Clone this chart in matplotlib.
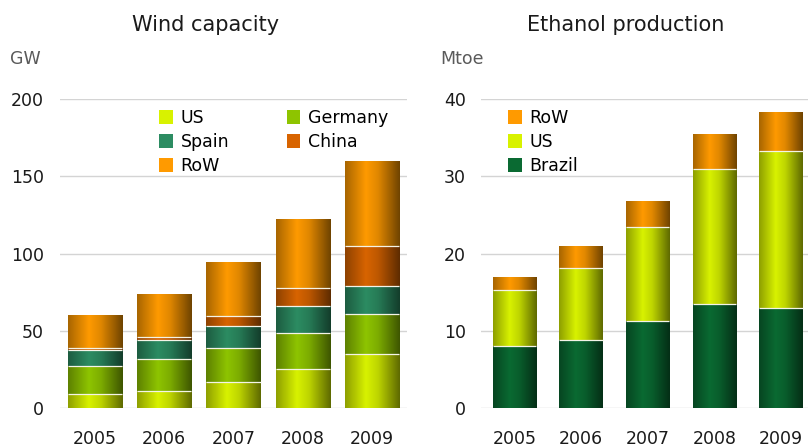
import numpy as np
import matplotlib
matplotlib.use("Agg")
import matplotlib.pyplot as plt
from matplotlib.colors import to_rgb
from matplotlib.patches import Patch

# Données
years = ["2005", "2006", "2007", "2008", "2009"]

wind_us = [9.1, 11.4, 16.8, 25.2, 35.0]
wind_germany = [18.4, 20.7, 22.2, 23.8, 25.8]
wind_spain = [10.0, 11.8, 14.5, 16.9, 18.5]
wind_china = [1.2, 2.3, 6.2, 11.8, 25.9]
wind_row = [21.2, 27.8, 34.3, 44.0, 54.5]

eth_brazil = [8.0, 8.8, 11.3, 13.5, 13.0]
eth_us = [7.3, 9.3, 12.2, 17.5, 20.3]
eth_row = [1.6, 2.8, 3.3, 4.5, 5.0]

# Couleurs
c_us = "#d8f200"
c_germany = "#8ec400"
c_spain = "#2c8c62"
c_china = "#d86400"
c_row = "#ff9a00"
c_brazil = "#0a6a32"

plt.rcParams["font.family"] = "DejaVu Sans"
txt_col = "#1a1a1a"
grid_col = "#d4d4d4"


def shade_profile(n=64):
    # sombre à gauche, clair vers 35 %, très sombre à droite
    x = np.linspace(0, 1, n)
    return np.interp(x, [0, 0.38, 0.6, 1.0], [0.66, 1.0, 0.88, 0.44])


def gradient_bars(ax, x, heights, bottoms, color, width):
    bars = ax.bar(x, heights, width, bottom=bottoms, facecolor="none",
                  edgecolor="none", zorder=3)
    prof = shade_profile()
    rgb = np.array(to_rgb(color))
    img = (prof[:, None] * rgb[None, :])[None, :, :]
    for b in bars:
        x0, y0 = b.get_x(), b.get_y()
        ax.imshow(img, extent=[x0, x0 + b.get_width(), y0, y0 + b.get_height()],
                  aspect="auto", interpolation="bilinear", zorder=2)
        # fine ligne blanche entre deux segments
        if y0 > 0:
            ax.hlines(y0, x0, x0 + b.get_width(), colors="#f4f4e8", linewidth=0.9, zorder=4)
    return bars


def style_axes(ax, ymax, step, ypad):
    ax.set_xlim(-0.5, 4.5)
    ax.set_ylim(0, ymax)
    ax.set_yticks(np.arange(0, ymax + 1, step))
    ax.set_xticks(range(len(years)))
    ax.set_xticklabels(years)
    for s in ax.spines.values():
        s.set_visible(False)
    ax.tick_params(axis="both", length=0, labelsize=12.5, colors=txt_col)
    ax.tick_params(axis="x", pad=15.5)
    ax.tick_params(axis="y", pad=ypad)
    ax.yaxis.grid(True, color=grid_col, linewidth=1.0, zorder=0)
    ax.set_axisbelow(True)


fig = plt.figure(figsize=(8.08, 4.48), dpi=100)

# Capacité éolienne
ax1 = fig.add_axes([60 / 808, 0.0886, 347 / 808, 0.690])
x = np.arange(len(years))
bottom = np.zeros(len(years))
for vals, col in [(wind_us, c_us), (wind_germany, c_germany), (wind_spain, c_spain),
                  (wind_china, c_china), (wind_row, c_row)]:
    gradient_bars(ax1, x, vals, bottom, col, 0.78)
    bottom = bottom + np.array(vals)
style_axes(ax1, 200, 50, 11.5)

h1 = [Patch(facecolor=c, edgecolor="none") for c in [c_us, c_spain, c_row, c_germany, c_china]]
l1 = ["US", "Spain", "RoW", "Germany", "China"]
fig.legend(h1, l1, loc="upper left", bbox_to_anchor=(152 / 808, 1 - 102 / 448), ncol=2,
           frameon=False, fontsize=12.5, handlelength=0.8, handleheight=0.8,
           handletextpad=0.45, labelspacing=0.35, columnspacing=3.3, borderaxespad=0)

# Production d'éthanol
ax2 = fig.add_axes([481 / 808, 0.0886, 333.5 / 808, 0.690])
bottom = np.zeros(len(years))
for vals, col in [(eth_brazil, c_brazil), (eth_us, c_us), (eth_row, c_row)]:
    gradient_bars(ax2, x, vals, bottom, col, 0.65)
    bottom = bottom + np.array(vals)
style_axes(ax2, 40, 10, 11)

h2 = [Patch(facecolor=c, edgecolor="none") for c in [c_row, c_us, c_brazil]]
fig.legend(h2, ["RoW", "US", "Brazil"], loc="upper left",
           bbox_to_anchor=(501 / 808, 1 - 102 / 448), frameon=False, fontsize=12.5,
           handlelength=0.8, handleheight=0.8, handletextpad=0.45,
           labelspacing=0.35, borderaxespad=0)

# Titres et unités
fig.text(206 / 808, 1 - 25 / 448, "Wind capacity", ha="center", va="center",
         fontsize=15, color=txt_col)
fig.text(626 / 808, 1 - 25 / 448, "Ethanol production", ha="center", va="center",
         fontsize=15, color=txt_col)
fig.text(10 / 808, 1 - 59 / 448, "GW", ha="left", va="center", fontsize=12.5, color="#5a5a5a")
fig.text(440 / 808, 1 - 59 / 448, "Mtoe", ha="left", va="center", fontsize=12.5, color="#5a5a5a")

fig.savefig("out.png", dpi=100)
